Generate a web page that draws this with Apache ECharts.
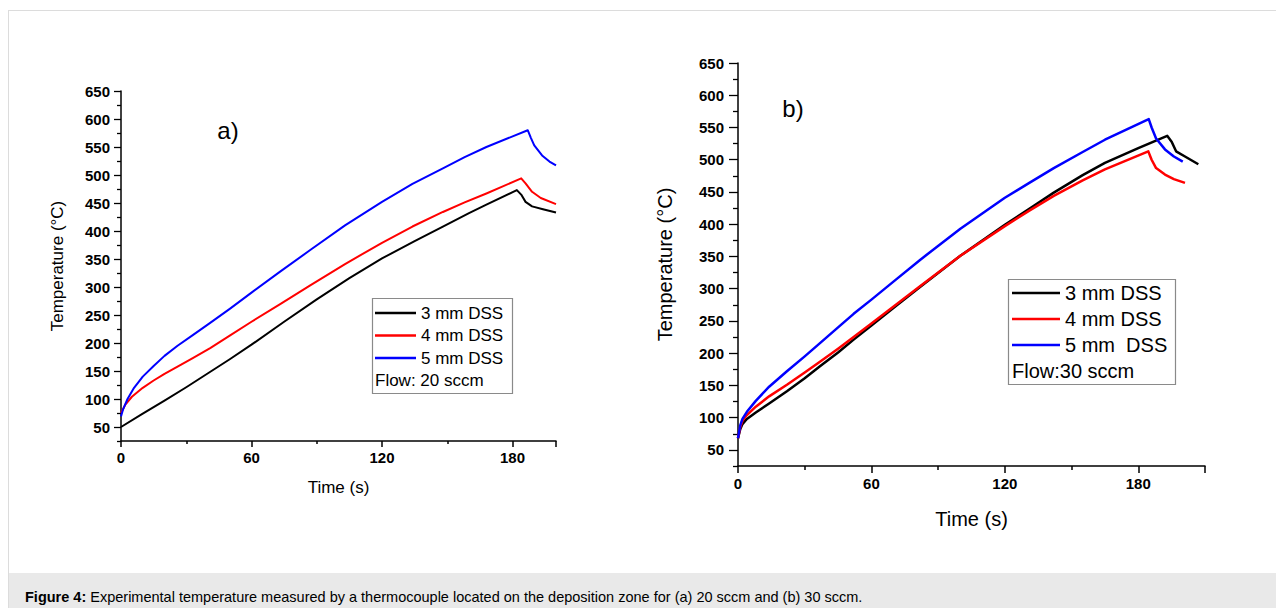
<!DOCTYPE html>
<html>
<head>
<meta charset="utf-8">
<script src="https://cdn.jsdelivr.net/npm/echarts@6/dist/echarts.min.js"></script>
<style>
  html, body { margin:0; padding:0; background:#fff; }
  #wrap { position:relative; width:1276px; height:608px; overflow:hidden; font-family:"Liberation Sans", Arial, sans-serif; }
  #frame { position:absolute; left:8px; top:10px; width:1290px; height:620px; border:1px solid #dcdcdc; box-sizing:border-box; }
  #chart { position:absolute; left:0; top:0; width:1276px; height:608px; }
  #caption { position:absolute; left:9px; top:573px; width:1280px; height:40px; background:#e9e9e9; font-size:14.5px; color:#000; line-height:15px; padding-top:17px; padding-left:16px; box-sizing:border-box; white-space:nowrap; }
</style>
</head>
<body>
<div id="wrap">
  <div id="frame"></div>
  <div id="chart"></div>
  <div id="caption"><b>Figure 4:</b> Experimental temperature measured by a thermocouple located on the deposition zone for (a) 20 sccm and (b) 30 sccm.</div>
</div>
<script>
// ---- Data: panel a) Flow 20 sccm ----
const timeA3 = [0,10,20,30,40,50,60,75,90,105,120,135,148,160,168,182,184,186,189,194,200];
const tempA3 = [50,74,97,121,146,171,197,238,278,316,351,382,408,432,447,473,465,452,444,439,433];
const timeA4 = [0,2,5,10,15,20,26,33,41,50,60,73,87,103,120,134,148,158,168,184,186,189,193,200];
const tempA4 = [75,90,104,120,133,145,158,173,191,213,238,269,303,341,379,408,434,451,467,494,485,470,459,448];
const timeA5 = [0,1,3,6,10,15,20,26,33,41,50,60,73,87,103,120,134,148,158,168,187,188.5,190,193.6,197,200];
const tempA5 = [69,82,100,120,140,159,177,195,214,236,261,290,327,366,410,452,484,512,532,550,580,566,553,535,524,517];
// ---- Data: panel b) Flow 30 sccm ----
const timeB3 = [0,1,2,4,8,14,22,30,37,45,52,60,71,82,100,120,131,142,155,165,180,193,195,197,201,207];
const tempB3 = [68,82,90,98,108,122,141,161,180,201,221,243,273,303,351,399,424,449,476,495,518,537,528,513,505,493];
const timeB4 = [0,1,2,4,8,14,22,30,37,45,52,60,71,82,100,120,131,142,155,165,184.5,186,188,192,196,201];
const tempB4 = [68,85,95,104,117,133,151,170,187,207,225,246,275,304,351,397,421,444,468,485,513,500,487,477,470,464];
const timeB5 = [0,1,2,4,8,14,22,30,37,45,52,60,71,82,100,120,131,142,155,165,184.7,186,188,192,196,200];
const tempB5 = [68,88,98,109,126,148,172,195,216,240,261,283,314,345,393,441,464,487,512,531,563,550,533,516,505,497];

// ---- Names and ticks ----
const seriesNames = ['3 mm DSS', '4 mm DSS', '5 mm DSS'];
const seriesNamesB = ['3 mm DSS', '4 mm DSS', '5 mm  DSS'];
const colors = ['#000000', '#ff0000', '#0000ff'];
const xTickInterval = 60;
const yMajorTicks = [50,100,150,200,250,300,350,400,450,500,550,600,650];
const yMinorTicks = [25,75,125,175,225,275,325,375,425,475,525,575,625];

function zip(t, v) { return t.map((x, i) => [x, v[i]]); }

const FONT = '"Liberation Sans", Arial, sans-serif';

function xAxisCfg(gridIndex, max, labelSize, nameSize, nameGap, tickLen) {
  return {
    type: 'value', gridIndex, min: 0, max, interval: xTickInterval,
    name: 'Time (s)', nameLocation: 'middle', nameGap,
    nameTextStyle: { fontSize: nameSize, color: '#000', fontFamily: FONT },
    axisLine: { show: true, onZero: false, lineStyle: { color: '#000', width: 1.5 } },
    axisTick: { show: true, inside: false, length: tickLen, lineStyle: { color: '#000', width: 1.5 } },
    minorTick: { show: true, splitNumber: 2, length: Math.round(tickLen / 2), lineStyle: { color: '#000', width: 1.5 } },
    axisLabel: { fontSize: labelSize, fontWeight: 'bold', color: '#000', margin: tickLen + 3, fontFamily: FONT,
      formatter: v => (v % 60 === 0 ? String(v) : '') },
    splitLine: { show: false }, minorSplitLine: { show: false }
  };
}
function yAxisMajor(gridIndex, labelSize, nameSize, nameGap, tickLen, margin) {
  return {
    type: 'value', gridIndex, min: 25, max: 650,
    name: 'Temperature (°C)', nameLocation: 'middle', nameGap,
    nameTextStyle: { fontSize: nameSize, color: '#000', fontFamily: FONT },
    axisLine: { show: true, onZero: false, lineStyle: { color: '#000', width: 1.5 } },
    axisTick: { show: true, inside: false, length: tickLen, customValues: yMajorTicks, lineStyle: { color: '#000', width: 1.3 } },
    axisLabel: { fontSize: labelSize, fontWeight: 'bold', color: '#000', margin, fontFamily: FONT, customValues: yMajorTicks },
    splitLine: { show: false }
  };
}
function yAxisMinor(gridIndex, tickLen) {
  return {
    type: 'value', gridIndex, min: 25, max: 650, position: 'left',
    axisLine: { show: false, onZero: false },
    axisTick: { show: true, inside: false, length: tickLen, customValues: yMinorTicks, lineStyle: { color: '#000', width: 1.3 } },
    axisLabel: { show: false },
    splitLine: { show: false }
  };
}
function lineSeries(name, xi, data, color, width) {
  return {
    type: 'line', name, xAxisIndex: xi, yAxisIndex: xi, data,
    symbol: 'none', smooth: false,
    lineStyle: { color, width, join: 'round' }, itemStyle: { color }
  };
}

const chart = echarts.init(document.getElementById('chart'), null, { renderer: 'svg', width: 1276, height: 608 });
chart.setOption({
  animation: false,
  backgroundColor: 'transparent',
  textStyle: { fontFamily: FONT },
  grid: [
    { left: 121, top: 91, width: 435, height: 350 },
    { left: 738, top: 63, width: 467, height: 403 }
  ],
  xAxis: [ xAxisCfg(0, 200, 15, 17, 38, 6), xAxisCfg(1, 210, 15, 20, 43, 7) ],
  yAxis: [
    yAxisMajor(0, 15, 17, 55, 7, 11),
    yAxisMajor(1, 15, 20, 63, 9, 14),
    yAxisMinor(0, 4),
    yAxisMinor(1, 5)
  ],
  legend: [
    { left: 375, top: 304.5, orient: 'vertical', icon: 'rect', itemWidth: 41, itemHeight: 2.5, itemGap: 5.5, padding: 0,
      selectedMode: false, data: seriesNames, textStyle: { fontSize: 17, color: '#000', fontFamily: FONT } },
    { left: 1012, top: 283, orient: 'vertical', icon: 'rect', itemWidth: 48, itemHeight: 2.5, itemGap: 6, padding: 0,
      selectedMode: false, data: seriesNamesB, textStyle: { fontSize: 20, color: '#000', fontFamily: FONT } }
  ],
  graphic: [
    { type: 'rect', shape: { x: 372.5, y: 298.5, width: 140, height: 95 }, style: { fill: 'none', stroke: '#8a8a8a', lineWidth: 1.2 }, z: 100 },
    { type: 'text', x: 375, y: 380, style: { text: 'Flow: 20 sccm', fontSize: 17, fill: '#000', fontFamily: FONT, verticalAlign: 'middle' }, z: 100 },
    { type: 'text', x: 228, y: 130, style: { text: 'a)', fontSize: 24, fill: '#000', fontFamily: FONT, align: 'center', verticalAlign: 'middle' }, z: 100 },
    { type: 'rect', shape: { x: 1008.5, y: 279.5, width: 167, height: 105 }, style: { fill: 'none', stroke: '#8a8a8a', lineWidth: 1.2 }, z: 100 },
    { type: 'text', x: 1012, y: 371, style: { text: 'Flow:30 sccm', fontSize: 20, fill: '#000', fontFamily: FONT, verticalAlign: 'middle' }, z: 100 },
    { type: 'text', x: 793, y: 108, style: { text: 'b)', fontSize: 24, fill: '#000', fontFamily: FONT, align: 'center', verticalAlign: 'middle' }, z: 100 }
  ],
  series: [
    lineSeries(seriesNames[0], 0, zip(timeA3, tempA3), colors[0], 2),
    lineSeries(seriesNames[1], 0, zip(timeA4, tempA4), colors[1], 2),
    lineSeries(seriesNames[2], 0, zip(timeA5, tempA5), colors[2], 2),
    lineSeries(seriesNamesB[0], 1, zip(timeB3, tempB3), colors[0], 2.5),
    lineSeries(seriesNamesB[1], 1, zip(timeB4, tempB4), colors[1], 2.5),
    lineSeries(seriesNamesB[2], 1, zip(timeB5, tempB5), colors[2], 2.5)
  ]
});
</script>
</body>
</html>
